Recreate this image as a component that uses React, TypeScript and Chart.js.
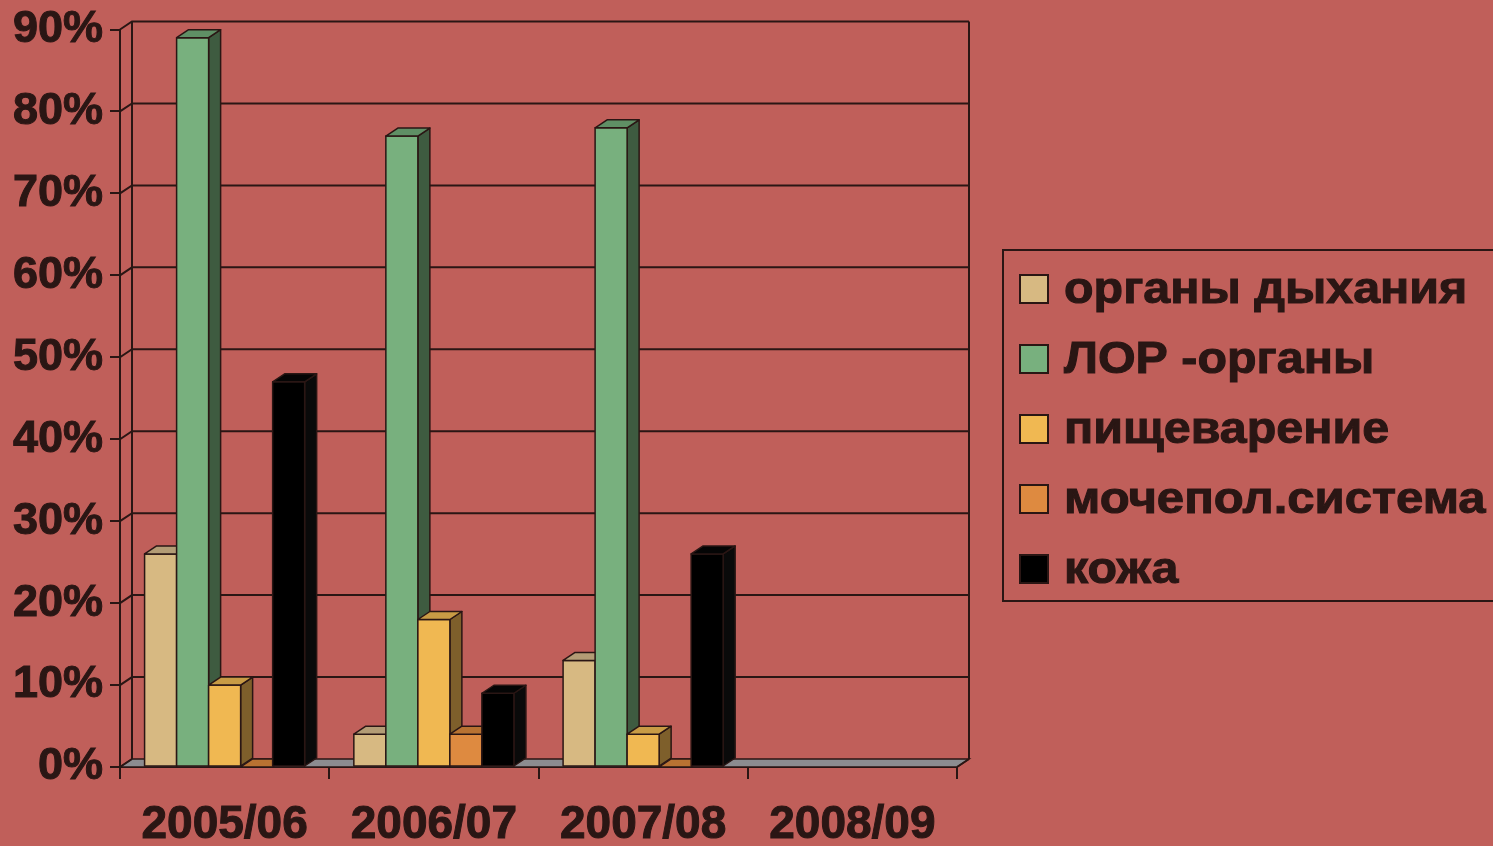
import React, { useEffect, useRef } from 'react';
import { Chart, registerables } from 'chart.js';

Chart.register(...registerables);

// ---------- data ----------
const categories = ['2005/06', '2006/07', '2007/08', '2008/09'];
const seriesNames = ['органы дыхания', 'ЛОР -органы', 'пищеварение', 'мочепол.система', 'кожа'];
const respiratory = [26, 4, 13, null];
const entOrgans = [89, 77, 78, null];
const digestion = [10, 18, 4, null];
const urogenital = [0, 4, 0, null];
const skin = [47, 9, 26, null];
const yTickValues = [0, 10, 20, 30, 40, 50, 60, 70, 80, 90];

// ---------- style ----------
const BG = '#C05F5A';
const INK = '#2A1614';
const FONT = "'Liberation Sans', Arial, sans-serif";
const DX = 12;
const DY = 8;
const faces = [
  { front: '#D7B982', top: '#B39C75', side: '#8E7A57' },
  { front: '#78B07E', top: '#5F8F65', side: '#3E5B40' },
  { front: '#F0B852', top: '#C89B45', side: '#7E5F2B' },
  { front: '#DE8A40', top: '#B87232', side: '#7A4A22' },
  { front: '#000000', top: '#050505', side: '#0A0A0A' },
];

const seriesValues = [respiratory, entOrgans, digestion, urogenital, skin];

const poly = (ctx: CanvasRenderingContext2D, pts: number[][], fill: string) => {
  ctx.beginPath();
  ctx.moveTo(pts[0][0], pts[0][1]);
  for (let i = 1; i < pts.length; i++) ctx.lineTo(pts[i][0], pts[i][1]);
  ctx.closePath();
  ctx.fillStyle = fill;
  ctx.fill();
  ctx.stroke();
};

const wallPlugin = {
  id: 'wall3d',
  beforeDatasetsDraw(chart: any) {
    const { ctx, chartArea } = chart;
    const { left, right, top, bottom } = chartArea;
    const yScale = chart.scales.y;
    ctx.save();
    ctx.strokeStyle = INK;
    // floor
    ctx.lineWidth = 1.5;
    poly(ctx, [[left, bottom], [right, bottom], [right + DX, bottom - DY], [left + DX, bottom - DY]], '#8C8C90');
    ctx.lineWidth = 2;
    // back wall grid lines + diagonal connectors
    yTickValues.forEach((v) => {
      const y = yScale.getPixelForValue(v);
      ctx.beginPath();
      ctx.moveTo(left, y);
      ctx.lineTo(left + DX, y - DY);
      if (v > 0) ctx.lineTo(right + DX, y - DY);
      ctx.stroke();
    });
    // back wall edges
    ctx.beginPath();
    ctx.moveTo(left + DX, bottom - DY);
    ctx.lineTo(left + DX, top - DY);
    ctx.moveTo(right + DX, bottom - DY);
    ctx.lineTo(right + DX, top - DY);
    ctx.moveTo(right, bottom);
    ctx.lineTo(right + DX, bottom - DY);
    ctx.stroke();
    ctx.restore();
  },
};

const barsPlugin = {
  id: 'bars3d',
  afterDatasetsDraw(chart: any) {
    const { ctx } = chart;
    ctx.save();
    ctx.strokeStyle = INK;
    ctx.lineWidth = 1.5;
    ctx.lineJoin = 'round';
    for (let i = 0; i < categories.length; i++) {
      chart.data.datasets.forEach((ds: any, di: number) => {
        const v = ds.data[i];
        if (v === null || v === undefined) return;
        const el = chart.getDatasetMeta(di).data[i];
        const { x, y, base, width } = el.getProps(['x', 'y', 'base', 'width'], true);
        const l = x - width / 2;
        const r = x + width / 2;
        const f = faces[di];
        if (base - y > 0.5) {
          poly(ctx, [[r, y], [r + DX, y - DY], [r + DX, base - DY], [r, base]], f.side);
          poly(ctx, [[l, y], [r, y], [r, base], [l, base]], f.front);
        }
        poly(ctx, [[l, y], [l + DX, y - DY], [r + DX, y - DY], [r, y]], f.top);
      });
    }
    ctx.restore();
  },
};

const legendPlugin = {
  id: 'boxLegend',
  afterDraw(chart: any) {
    const { ctx } = chart;
    const bx = 1003;
    const by = 250;
    const bh = 351;
    ctx.save();
    ctx.strokeStyle = INK;
    ctx.lineWidth = 2;
    ctx.strokeRect(bx, by, 700, bh);
    ctx.font = `bold 44px ${FONT}`;
    ctx.textBaseline = 'middle';
    ctx.textAlign = 'left';
    chart.data.datasets.forEach((ds: any, di: number) => {
      const cy = 289 + di * 70;
      ctx.fillStyle = faces[di].front;
      ctx.lineWidth = 2;
      ctx.strokeStyle = INK;
      ctx.fillRect(1020, cy - 14, 28, 28);
      ctx.strokeRect(1020, cy - 14, 28, 28);
      ctx.save();
      ctx.translate(1064, cy + 2);
      ctx.scale(di === 3 ? 1.115 : 1.1, 1);
      ctx.fillStyle = INK;
      ctx.lineWidth = 1;
      ctx.fillText(ds.label, 0, 0);
      ctx.strokeText(ds.label, 0, 0);
      ctx.restore();
    });
    ctx.restore();
  },
};

export default function App() {
  const canvasRef = useRef<HTMLCanvasElement | null>(null);

  useEffect(() => {
    document.body.style.margin = '0';
    document.body.style.background = BG;
    const canvas = canvasRef.current;
    if (!canvas) return;
    const chart = new Chart(canvas, {
      type: 'bar',
      data: {
        labels: categories,
        datasets: seriesNames.map((name, i) => ({
          label: name,
          data: seriesValues[i],
          backgroundColor: faces[i].front,
          borderColor: INK,
          borderWidth: 0,
          categoryPercentage: 0.765,
          barPercentage: 1.0,
        })),
      },
      options: {
        responsive: true,
        maintainAspectRatio: false,
        animation: false,
        layout: { padding: { top: 20, right: 536, left: 0, bottom: 0 } },
        plugins: {
          legend: { display: false },
          tooltip: { enabled: false },
        },
        scales: {
          x: {
            afterFit: (scale: any) => {
              scale.height = 79;
            },
            grid: {
              offset: true,
              drawOnChartArea: false,
              drawTicks: true,
              tickLength: 12,
              color: INK,
              lineWidth: 2,
            },
            border: { display: true, color: INK, width: 2 },
            ticks: {
              color: INK,
              font: { family: FONT, size: 46, weight: 'bold', lineHeight: 1.0 },
              padding: 23,
              maxRotation: 0,
              autoSkip: false,
              textStrokeColor: INK,
              textStrokeWidth: 1,
            },
          },
          y: {
            min: 0,
            max: 90,
            afterFit: (scale: any) => {
              scale.width = 120;
            },
            afterBuildTicks: (scale: any) => {
              scale.ticks = yTickValues.map((v) => ({ value: v }));
            },
            grid: {
              drawOnChartArea: false,
              drawTicks: true,
              tickLength: 10,
              color: INK,
              lineWidth: 2,
            },
            border: { display: true, color: INK, width: 2 },
            ticks: {
              color: INK,
              font: { family: FONT, size: 45, weight: 'bold', lineHeight: 1.0 },
              padding: 7,
              textStrokeColor: INK,
              textStrokeWidth: 1,
              callback: (v: any) => `${v}%`,
            },
          },
        },
      },
      plugins: [wallPlugin, barsPlugin, legendPlugin],
    });
    return () => chart.destroy();
  }, []);

  return (
    <div style={{ position: 'fixed', left: 0, top: 0, width: 1493, height: 846, background: BG }}>
      <canvas ref={canvasRef} />
    </div>
  );
}
